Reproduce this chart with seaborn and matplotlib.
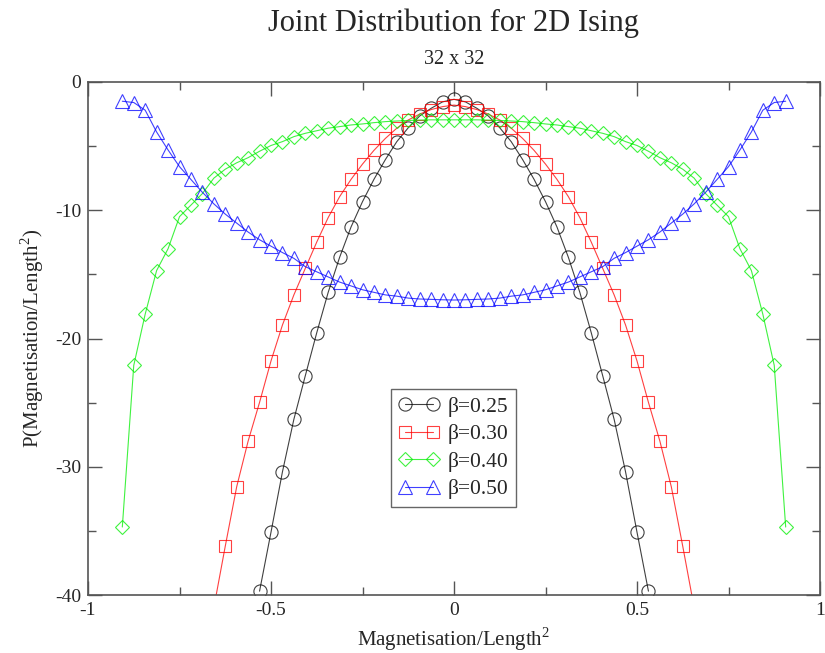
import matplotlib
matplotlib.use('Agg')
import matplotlib.pyplot as plt
import seaborn as sns

# Magnetisation per site, in lattice steps of 1/32 (32 x 32 lattice)
steps_025 = list(range(-17, 18))
steps_030 = list(range(-21, 22))
steps_040 = list(range(-29, 30))
steps_050 = list(range(-29, 30))

# log P values
p_025 = [-39.7, -35.1, -30.4, -26.3, -22.9, -19.55, -16.4, -13.67, -11.3, -9.33,
         -7.59, -6.05, -4.65, -3.57, -2.65, -2.05, -1.55, -1.35,
         -1.55, -2.05, -2.65, -3.57, -4.65, -6.05, -7.59, -9.33, -11.3, -13.67,
         -16.4, -19.55, -22.9, -26.3, -30.4, -35.1, -39.7]
p_030 = [-41.0, -36.2, -31.56, -28.0, -24.98, -21.75, -18.95, -16.6, -14.53, -12.48,
         -10.57, -8.94, -7.59, -6.4, -5.33, -4.4, -3.6, -2.96, -2.5, -2.15, -1.92,
         -1.8,
         -1.92, -2.15, -2.5, -2.96, -3.6, -4.4, -5.33, -6.4, -7.59, -8.94, -10.57,
         -12.48, -14.53, -16.6, -18.95, -21.75, -24.98, -28.0, -31.56, -36.2, -41.0]
p_040 = [-34.7, -22.1, -18.1, -14.7, -13.0, -10.5, -9.6, -8.7, -7.5, -6.8,
         -6.3, -5.9, -5.4, -4.95, -4.65, -4.26, -4.0, -3.8, -3.6, -3.48,
         -3.35, -3.27, -3.17, -3.09, -3.04, -3.0, -2.97, -2.95, -2.95,
         -2.95,
         -2.95, -2.95, -2.97, -3.0, -3.04, -3.09, -3.17, -3.27, -3.35,
         -3.48, -3.6, -3.8, -4.0, -4.26, -4.65, -4.95, -5.4, -5.9, -6.3,
         -6.8, -7.5, -8.7, -9.6, -10.5, -13.0, -14.7, -18.1, -22.1, -34.7]
p_050 = [-1.5, -1.6, -2.2, -3.9, -5.3, -6.6, -7.6, -8.6, -9.5, -10.3,
         -11.0, -11.7, -12.3, -12.8, -13.3, -13.75, -14.4, -14.8, -15.2, -15.6,
         -15.9, -16.2, -16.4, -16.6, -16.7, -16.85, -16.92, -16.95, -16.98,
         -17.0,
         -16.98, -16.95, -16.92, -16.85, -16.7, -16.6, -16.4, -16.2, -15.9,
         -15.6, -15.2, -14.8, -14.4, -13.75, -13.3, -12.8, -12.3, -11.7, -11.0,
         -10.3, -9.5, -8.6, -7.6, -6.6, -5.3, -3.9, -2.2, -1.6, -1.5]

labels = ['β=0.25', 'β=0.30', 'β=0.40', 'β=0.50']
colors = ['#000000', '#ff0000', '#00ee00', '#0000ff']
markers = ['o', 's', 'D', '^']
sizes = [9.5, 9.0, 7.5, 10.0]

sns.set_style('ticks')
plt.rcParams['font.family'] = ['Liberation Serif', 'DejaVu Serif']
plt.rcParams['mathtext.fontset'] = 'custom'
plt.rcParams['mathtext.rm'] = 'Liberation Serif'
plt.rcParams['axes.unicode_minus'] = False

fig = plt.figure(figsize=(8.25, 6.53), dpi=100)
ax = fig.add_axes([88 / 825, 1 - 595 / 653, 732 / 825, 513 / 653])

series = [(steps_025, p_025), (steps_030, p_030), (steps_040, p_040), (steps_050, p_050)]
for (steps, vals), lab, c, m, ms in zip(series, labels, colors, markers, sizes):
    x = [s / 32 for s in steps]
    sns.lineplot(x=x, y=vals, ax=ax, color=c, linewidth=0.8, marker=m, markersize=ms,
                 markerfacecolor='none', markeredgecolor=c, markeredgewidth=0.8,
                 alpha=0.75, label=lab, sort=False, estimator=None)

ax.set_xlim(-1, 1)
ax.set_ylim(-40, 0)
ax.set_xticks([-1, -0.5, 0, 0.5, 1])
ax.set_xticklabels(['-1', '-0.5', '0', '0.5', '1'])
ax.set_xticks([-0.75, -0.25, 0.25, 0.75], minor=True)
ax.set_yticks([-40, -30, -20, -10, 0])
ax.set_yticks([-35, -25, -15, -5], minor=True)
ax.tick_params(which='both', direction='in', top=True, right=True, color='#555555',
               width=1, labelsize=14, pad=5)
ax.tick_params(which='major', length=10)
ax.tick_params(which='minor', length=6)
for sp in ax.spines.values():
    sp.set_color('#555555')
    sp.set_linewidth(1.2)

ax.set_xlabel('Magnetisation/Length$^2$', fontsize=15, labelpad=5)
ax.set_ylabel('P(Magnetisation/Length$^2$)', fontsize=15, labelpad=6)

fig.text(454 / 825, 1 - 23 / 653, 'Joint Distribution for 2D Ising', fontsize=22,
         ha='center', va='center')
fig.text(454 / 825, 1 - 60 / 653, '32 x 32', fontsize=14.5, ha='center', va='center')

leg = ax.legend(loc='upper left', bbox_to_anchor=((391 - 88) / 732, (595 - 389) / 513),
                borderaxespad=0, numpoints=2, handlelength=1.9, handletextpad=0.4,
                labelspacing=0.35, fontsize=15.5, fancybox=False, framealpha=1,
                edgecolor='#666666', borderpad=0.35)
leg.get_frame().set_linewidth(1)

fig.savefig('out.png', dpi=100)
